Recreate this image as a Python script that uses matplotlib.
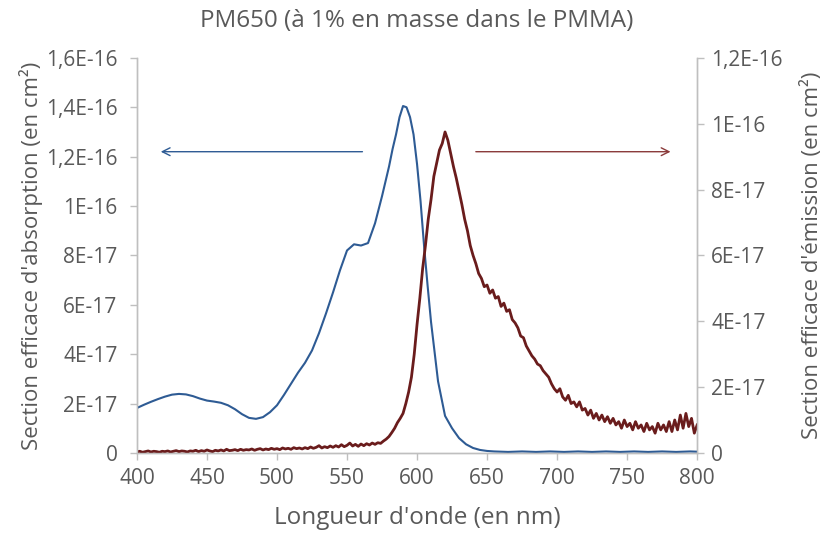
import matplotlib.pyplot as plt
import numpy as np

# wavelengths (nm) of the absorption readings
wlAbs = [
    400, 405, 410, 415, 420, 425, 430, 435, 440, 445,
    450, 455, 460, 465, 470, 475, 480, 485, 490, 495,
    500, 505, 510, 515, 520, 525, 530, 535, 540, 545,
    550, 555, 560, 565, 570, 575, 580, 582.5, 585, 587.5,
    590, 592.5, 595, 597.5, 600, 602.5, 605, 607.5, 610, 615,
    620, 625, 630, 635, 640, 645, 650, 655, 660, 665,
    670, 675, 680, 685, 690, 695, 700, 705, 710, 715,
    720, 725, 730, 735, 740, 745, 750, 755, 760, 765,
    770, 775, 780, 785, 790, 795, 800,
]
# absorption cross section, units of 1E-17 cm2 (left axis)
absorption = [
    1.82, 1.95, 2.07, 2.18, 2.28, 2.36, 2.39, 2.37, 2.30, 2.20,
    2.12, 2.08, 2.03, 1.93, 1.77, 1.57, 1.42, 1.38, 1.45, 1.65,
    1.93, 2.35, 2.80, 3.25, 3.65, 4.15, 4.85, 5.65, 6.50, 7.40,
    8.20, 8.45, 8.40, 8.50, 9.30, 10.4, 11.6, 12.3, 12.9, 13.6,
    14.05, 14.0, 13.6, 12.9, 11.7, 10.2, 8.4, 6.8, 5.3, 2.9,
    1.5, 1.0, 0.6, 0.35, 0.2, 0.12, 0.08, 0.06, 0.05, 0.04,
    0.05, 0.06, 0.05, 0.04, 0.05, 0.06, 0.05, 0.04, 0.05, 0.06,
    0.05, 0.04, 0.05, 0.06, 0.05, 0.04, 0.05, 0.06, 0.05, 0.04,
    0.05, 0.06, 0.05, 0.04, 0.05, 0.06, 0.05,
]

# emission readings every 2 nm
wlEm = np.arange(400, 801, 2)
# emission cross section, units of 1E-17 cm2 (right axis)
emission = [
    0.03, 0.05, 0.02, 0.04, 0.06, 0.03, 0.05, 0.04, 0.02, 0.05,
    0.04, 0.06, 0.03, 0.05, 0.07, 0.04, 0.06, 0.05, 0.03, 0.06,
    0.05, 0.08, 0.04, 0.07, 0.05, 0.09, 0.06, 0.04, 0.08, 0.06,
    0.09, 0.06, 0.11, 0.07, 0.08, 0.10, 0.07, 0.11, 0.08, 0.10,
    0.09, 0.12, 0.08, 0.11, 0.13, 0.09, 0.12, 0.10, 0.14, 0.11,
    0.13, 0.10, 0.15, 0.12, 0.14, 0.11, 0.16, 0.13, 0.15, 0.12,
    0.16, 0.13, 0.18, 0.14, 0.17, 0.22, 0.15, 0.19, 0.16, 0.21,
    0.17, 0.22, 0.18, 0.25, 0.19, 0.23, 0.30, 0.21, 0.26, 0.20,
    0.27, 0.22, 0.28, 0.24, 0.30, 0.26, 0.31, 0.29, 0.36, 0.42,
    0.50, 0.62, 0.75, 0.92, 1.05, 1.20, 1.50, 1.85, 2.30, 3.00,
    3.90, 4.70, 5.60, 6.30, 7.10, 7.70, 8.40, 8.80, 9.20, 9.40,
    9.75, 9.50, 9.10, 8.70, 8.35, 7.95, 7.55, 7.10, 6.75, 6.30,
    6.00, 5.75, 5.45, 5.30, 5.05, 5.10, 4.85, 4.95, 4.70, 4.75,
    4.45, 4.55, 4.30, 4.35, 4.05, 3.95, 3.80, 3.55, 3.50, 3.25,
    3.10, 2.95, 2.85, 2.70, 2.65, 2.50, 2.40, 2.30, 2.10, 1.95,
    1.85, 1.95, 1.70, 1.60, 1.75, 1.50, 1.55, 1.40, 1.55, 1.30,
    1.35, 1.15, 1.30, 1.05, 1.20, 1.00, 1.15, 0.95, 1.10, 0.90,
    1.05, 0.85, 0.95, 0.75, 1.00, 0.80, 0.90, 0.70, 0.95, 0.75,
    0.85, 0.65, 0.90, 0.70, 0.80, 0.60, 0.90, 0.70, 0.85, 0.65,
    0.95, 0.65, 1.00, 0.70, 1.15, 0.75, 1.20, 0.80, 1.05, 0.60,
    0.85,
]

xTicks = [400, 450, 500, 550, 600, 650, 700, 750, 800]
leftTicks = [0, 2e-17, 4e-17, 6e-17, 8e-17, 1e-16, 1.2e-16, 1.4e-16, 1.6e-16]
leftLabels = ['0', '2E-17', '4E-17', '6E-17', '8E-17', '1E-16', '1,2E-16', '1,4E-16', '1,6E-16']
rightTicks = [0, 2e-17, 4e-17, 6e-17, 8e-17, 1e-16, 1.2e-16]
rightLabels = ['0', '2E-17', '4E-17', '6E-17', '8E-17', '1E-16', '1,2E-16']

textColor = '#595959'
axisColor = '#BFBFBF'
blue = '#2E5B94'
red = '#6A1C1C'

plt.rcParams['font.family'] = ['Open Sans', 'DejaVu Sans']

fig = plt.figure(figsize=(8.25, 5.36), dpi=100)
ax = fig.add_axes([0.166, 0.155, 0.679, 0.737])
ax2 = ax.twinx()

ax.plot(wlAbs, np.array(absorption) * 1e-17, color=blue, lw=1.5, zorder=3)
ax2.plot(wlEm, np.array(emission) * 1e-17, color=red, lw=2.0, zorder=2)

ax.set_xlim(400, 800)
ax.set_ylim(0, 1.6e-16)
ax2.set_ylim(0, 1.2e-16)
ax.set_xticks(xTicks)
ax.set_yticks(leftTicks)
ax.set_yticklabels(leftLabels)
ax2.set_yticks(rightTicks)
ax2.set_yticklabels(rightLabels)

for a in (ax, ax2):
    a.spines['top'].set_visible(False)
    for s in ('left', 'right', 'bottom'):
        a.spines[s].set_color(axisColor)
        a.spines[s].set_linewidth(1.0)
    a.tick_params(colors=axisColor, labelcolor=textColor, labelsize=15, length=5, width=1)
ax.tick_params(axis='x', pad=6)
ax.tick_params(axis='y', pad=9)
ax2.tick_params(axis='y', pad=5)

ax.set_xlabel("Longueur d'onde (en nm)", fontsize=17.5, color=textColor, labelpad=12)
ax.set_ylabel("Section efficace d'absorption (en cm²)", fontsize=16, color=textColor, labelpad=2)
ax2.set_ylabel("Section efficace d'émission (en cm²)", fontsize=16, color=textColor, labelpad=13)
ax.set_title("PM650 (à 1% en masse dans le PMMA)", fontsize=17.5, color=textColor, pad=22)

# arrows pointing to each curve's axis
ax.annotate('', xy=(415, 1.22e-16), xytext=(563, 1.22e-16),
            arrowprops=dict(arrowstyle='->', color=blue, lw=1.0, mutation_scale=14))
ax2.annotate('', xy=(783, 9.15e-17), xytext=(640, 9.15e-17),
             arrowprops=dict(arrowstyle='->', color='#8A3A3A', lw=1.0, mutation_scale=14))

fig.savefig('out.png', dpi=100)
